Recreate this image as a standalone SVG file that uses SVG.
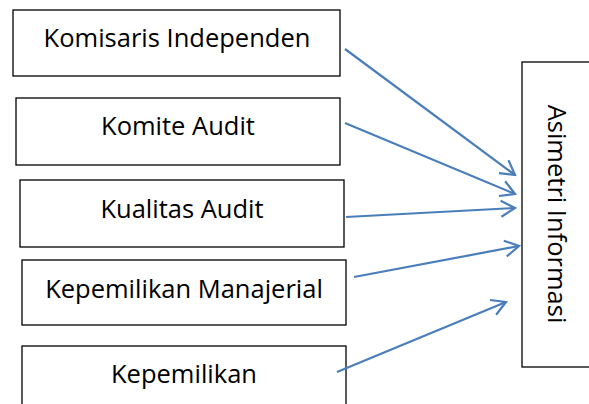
<svg xmlns="http://www.w3.org/2000/svg" width="589" height="404" viewBox="0 0 589 404">
<defs>
<style>
.box{fill:#fff;stroke:#000;stroke-width:1.3}
.lbl{font-family:"Open Sans","Liberation Sans",sans-serif;font-size:25.5px;fill:#000;text-anchor:middle}
.arr{stroke:#4a7ebb;stroke-width:2.2;fill:none;marker-end:url(#ah)}
</style>
<marker id="ah" viewBox="0 0 20 20" refX="18" refY="10" markerWidth="20" markerHeight="20" markerUnits="userSpaceOnUse" orient="auto">
<path d="M4 2 L18 10 L4 18" fill="none" stroke="#4a7ebb" stroke-width="2.2"/>
</marker>
</defs>
<rect width="589" height="404" fill="#fff"/>
<g id="n1"><rect class="box" x="13" y="10" width="327" height="66"/><text class="lbl" x="177" y="47">Komisaris Independen</text></g>
<g id="n2"><rect class="box" x="16" y="98" width="324" height="67"/><text class="lbl" x="178" y="135">Komite Audit</text></g>
<g id="n3"><rect class="box" x="20" y="180" width="324" height="67"/><text class="lbl" x="182" y="218">Kualitas Audit</text></g>
<g id="n4"><rect class="box" x="22" y="260" width="324" height="65"/><text class="lbl" x="184" y="298">Kepemilikan Manajerial</text></g>
<g id="n5"><rect class="box" x="22" y="346" width="324" height="70"/><text class="lbl" x="184" y="383">Kepemilikan</text></g>
<g id="n6"><rect class="box" x="522" y="62" width="70" height="305"/><text class="lbl" transform="translate(548 214) rotate(90)" x="0" y="0">Asimetri Informasi</text></g>
<g id="edges">
<line class="arr" x1="345" y1="49" x2="515" y2="175"/>
<line class="arr" x1="345" y1="123" x2="515" y2="194"/>
<line class="arr" x1="346" y1="217" x2="515" y2="208"/>
<line class="arr" x1="354" y1="277" x2="519" y2="246"/>
<line class="arr" x1="337" y1="372" x2="506" y2="302"/>
</g>
</svg>
